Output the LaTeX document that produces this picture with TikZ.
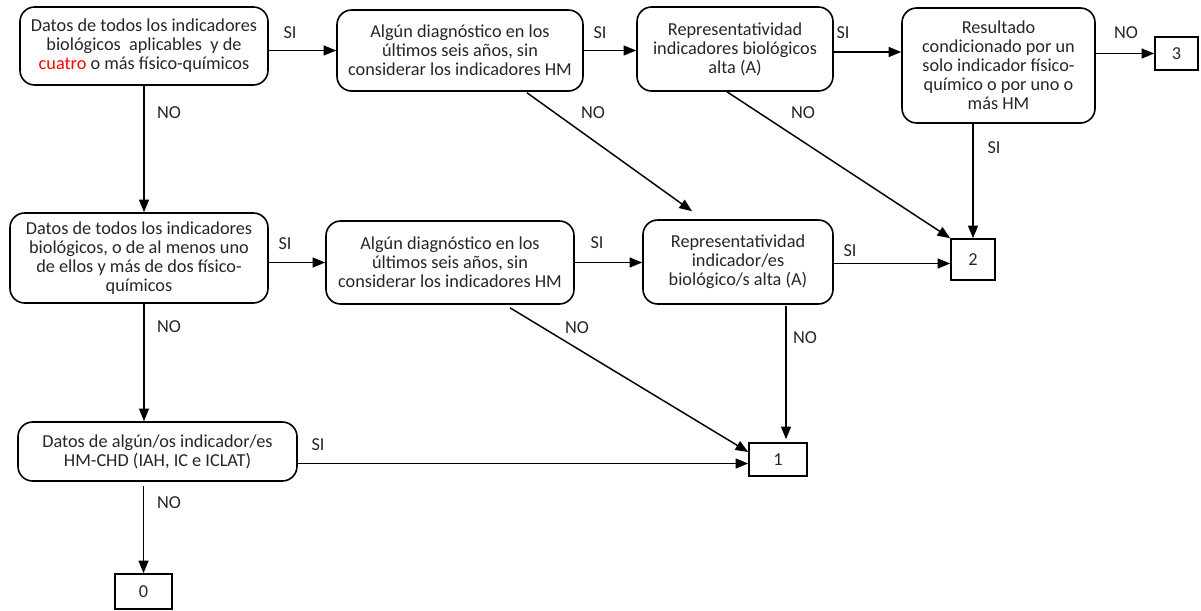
\documentclass[tikz,border=0pt]{standalone}
\usepackage{fontspec}
\setmainfont{Carlito}
\usetikzlibrary{arrows.meta,calc}
\begin{document}
\begin{tikzpicture}[x=0.75pt,y=-0.75pt,
  every node/.style={font=\fontsize{13.7}{14.3}\selectfont, text=black!85},
  dec/.style={draw=black, line width=1.2pt, rounded corners=11pt, align=center, inner sep=2pt},
  res/.style={draw=black, line width=1.2pt, inner sep=0pt},
  lbl/.style={inner sep=0pt},
  arr/.style={draw=black, line width=1.1pt, -{Triangle[length=9.5pt,width=7.5pt]}},
]
\useasboundingbox (0,0) rectangle (1201,610);

% decision boxes
\node[dec, minimum width=186pt, minimum height=58.5pt] (A) at (144,46)
  {Datos de todos los indicadores\\biológicos~ aplicables~ y de\\\textcolor{red}{cuatro} o más físico-químicos};
\node[dec, minimum width=184.5pt, minimum height=60.75pt] (B) at (460,50.5)
  {Algún diagnóstico en los\\últimos seis años, sin\\considerar los indicadores HM};
\node[dec, minimum width=147pt, minimum height=63pt] (C) at (735,49)
  {Representatividad\\indicadores biológicos\\alta (A)};
\node[dec, minimum width=144.75pt, minimum height=86.25pt] (D) at (998.5,65.5)
  {Resultado\\condicionado por un\\solo indicador físico-\\químico o por uno o\\más HM};
\node[dec, minimum width=193.5pt, minimum height=67.5pt] (E) at (139,258)
  {Datos de todos los indicadores\\biológicos, o de al menos uno\\de ellos y más de dos físico-\\químicos};
\node[dec, minimum width=186pt, minimum height=62.25pt] (G) at (450,262.5)
  {Algún diagnóstico en los\\últimos seis años, sin\\considerar los indicadores HM};
\node[dec, minimum width=142.5pt, minimum height=63pt] (F) at (738,262)
  {Representatividad\\indicador/es\\biológico/s alta (A)};
\node[dec, minimum width=209.25pt, minimum height=44.25pt] (H) at (157.5,451.5)
  {Datos de algún/os indicador/es\\HM-CHD (IAH, IC e ICLAT)};

% result boxes
\node[res, minimum width=32.25pt, minimum height=24.75pt] (r3) at (1176.5,53.5) {3};
\node[res, minimum width=33pt, minimum height=30.75pt] (r2) at (973,259.5) {2};
\node[res, minimum width=43.5pt, minimum height=24.75pt] (r1) at (778,459.5) {1};
\node[res, minimum width=42.75pt, minimum height=26.25pt] (r0) at (143.5,591.5) {0};

% connectors
\draw[arr] (A.east |- B.west) -- (B.west);
\draw[arr] (B.east) -- (B.east -| C.west);
\draw[arr] ($(C.east)+(0,3)$) -- ($(C.east -| D.west)+(0,3)$);
\draw[arr] (D.east |- r3.west) -- (r3.west);
\draw[arr] (r2.north |- D.south) -- (r2.north);
\draw[arr] ($(C.south)+(-8,0)$) -- (r2.north west);
\draw[arr] ($(B.south)+(67,1)$) -- ($(F.north)+(-46,-8)$);
\draw[arr] (A.south) -- (A.south |- E.north);
\draw[arr] (E.east |- G.west) -- (G.west);
\draw[arr] (G.east) -- (G.east -| F.west);
\draw[arr] ($(F.east |- r2.west)+(0,4)$) -- ($(r2.west)+(0,4)$);
\draw[arr] (A.south |- E.south) -- (A.south |- H.north);
\draw[arr] ($(H.east |- r1.west)+(0,4)$) -- ($(r1.west)+(0,4)$);
\draw[arr] ($(G.south)+(60,3)$) -- ($(r1.west)+(0,-7.5)$);
\draw[arr] ($(F.south -| r1.north)+(8,1)$) -- ($(r1.north)+(8,-3)$);
\draw[arr] ($(H.south)+(-14,4)$) -- (r0.north);

% branch labels
\node[lbl] (lAB) at (290,33) {SI};
\node[lbl] (lBC) at (600,33) {SI};
\node[lbl] (lCD) at (843,33) {SI};
\node[lbl] (lD3) at (1126,33) {NO};
\node[lbl] (lD2) at (994,148) {SI};
\node[lbl] (lC2) at (803,113) {NO};
\node[lbl] (lBF) at (593,113) {NO};
\node[lbl] (lAE) at (169,113) {NO};
\node[lbl] (lEG) at (285,244) {SI};
\node[lbl] (lGF) at (597,243) {SI};
\node[lbl] (lF2) at (850,251) {SI};
\node[lbl] (lEH) at (169,327) {NO};
\node[lbl] (lG1) at (577,328) {NO};
\node[lbl] (lF1) at (805,338) {NO};
\node[lbl] (lH1) at (318,445) {SI};
\node[lbl] (lH0) at (169,503) {NO};
\end{tikzpicture}
\end{document}
